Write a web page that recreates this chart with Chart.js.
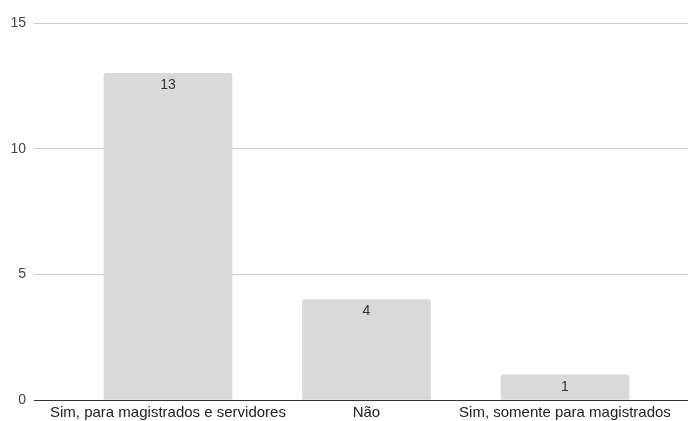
<!DOCTYPE html>
<html>
<head>
<meta charset="utf-8">
<script src="https://cdn.jsdelivr.net/npm/chart.js@4"></script>
<style>
  html, body { margin: 0; padding: 0; background: #fff; }
  #wrap { width: 688px; height: 421px; }
</style>
</head>
<body>
<div id="wrap"><canvas id="chart" width="688" height="421"></canvas></div>
<script>
// Data
const categories = ['Sim, para magistrados e servidores', 'Não', 'Sim, somente para magistrados'];
const counts = [13, 4, 1];
const yTicks = [0, 5, 10, 15];

const barColor = '#d9d9d9';
const fontFamily = '"Liberation Sans", Arial, sans-serif';

// value labels inside the top of each bar
const barLabels = {
    id: 'barLabels',
    afterDatasetsDraw(chart) {
        const ctx = chart.ctx;
        const meta = chart.getDatasetMeta(0);
        ctx.save();
        ctx.font = '14px ' + fontFamily;
        ctx.fillStyle = '#333';
        ctx.textAlign = 'center';
        ctx.textBaseline = 'middle';
        meta.data.forEach((bar, i) => {
            ctx.fillText(String(counts[i]), bar.x, bar.y + 12);
        });
        ctx.restore();
    }
};

const ctx = document.getElementById('chart').getContext('2d');
new Chart(ctx, {
    type: 'bar',
    data: {
        datasets: [{
            data: counts.map((v, i) => ({ x: i, y: v })),
            backgroundColor: barColor,
            borderRadius: { topLeft: 3, topRight: 3 },
            borderSkipped: 'bottom',
            barThickness: 128
        }]
    },
    options: {
        responsive: false,
        animation: false,
        layout: { padding: { top: 23, left: 0, right: 0, bottom: 0 } },
        plugins: { legend: { display: false }, tooltip: { enabled: false } },
        scales: {
            x: {
                type: 'linear',
                offset: false,
                min: -0.675,
                max: 2.62,
                grid: { display: false, drawTicks: false },
                border: { display: false },
                afterBuildTicks: axis => { axis.ticks = categories.map((c, i) => ({ value: i })); },
                afterFit: axis => { axis.height = 21; },
                ticks: {
                    padding: 4,
                    color: '#222',
                    font: { family: fontFamily, size: 15 },
                    maxRotation: 0,
                    autoSkip: false,
                    callback: v => categories[v]
                }
            },
            y: {
                min: 0,
                max: 15,
                afterBuildTicks: axis => { axis.ticks = yTicks.map(v => ({ value: v })); },
                afterFit: axis => { axis.width = 34; },
                grid: {
                    drawTicks: false,
                    color: c => c.tick && c.tick.value === 0 ? '#333' : '#ccc',
                    lineWidth: 1
                },
                border: { display: false },
                ticks: {
                    padding: 8,
                    color: '#444',
                    font: { family: fontFamily, size: 14 }
                }
            }
        }
    },
    plugins: [barLabels]
});
</script>
</body>
</html>
